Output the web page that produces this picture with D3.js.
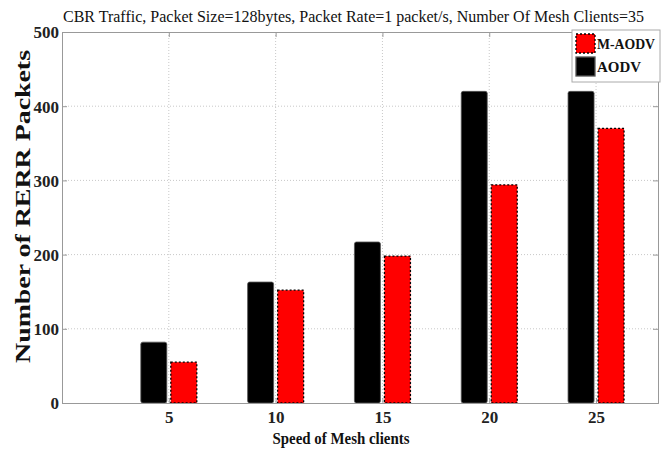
<!DOCTYPE html>
<html>
<head>
<meta charset="utf-8">
<script src="https://cdn.jsdelivr.net/npm/d3@7"></script>
<style>
  body { margin: 0; background: #fff; }
  svg text { font-family: "Liberation Serif", "Times New Roman", Times, serif !important; }
</style>
</head>
<body>
<div id="app"></div>
<script>
// data
const speeds = [5, 10, 15, 20, 25];
const aodv = [82, 163, 217, 420, 420];
const maodv = [55, 152, 198, 294, 370];
const yTicks = [0, 100, 200, 300, 400, 500];
const seriesNames = ["M-AODV", "AODV"];

const width = 663, height = 450;
const plotLeft = 62, plotRight = 658, plotTop = 32, plotBottom = 403;

const svg = d3.select("#app").append("svg")
  .attr("width", width)
  .attr("height", height);

const x = d3.scaleLinear().domain([0, 27.9]).range([plotLeft, plotRight]);
const y = d3.scaleLinear().domain([0, 500]).range([plotBottom, plotTop]);

// grid
const grid = svg.append("g");
grid.selectAll("line.h").data(yTicks.slice(1, -1)).enter().append("line")
  .attr("x1", plotLeft).attr("x2", plotRight)
  .attr("y1", d => y(d)).attr("y2", d => y(d))
  .attr("stroke", "#c8c8c8").attr("stroke-dasharray", "1,2");
grid.selectAll("line.v").data(speeds).enter().append("line")
  .attr("x1", d => x(d)).attr("x2", d => x(d))
  .attr("y1", plotTop).attr("y2", plotBottom)
  .attr("stroke", "#c8c8c8").attr("stroke-dasharray", "1,2");

// bars
const barW = 26, off = 15;
const bars = svg.append("g");
bars.selectAll("rect.aodv").data(speeds).enter().append("rect")
  .attr("x", d => x(d) - off - barW / 2)
  .attr("y", (d, i) => y(aodv[i]))
  .attr("width", barW)
  .attr("height", (d, i) => y(0) - y(aodv[i]))
  .attr("rx", 2)
  .attr("fill", "#000")
  .attr("stroke", "#555").attr("stroke-width", 0.8);
bars.selectAll("rect.maodv").data(speeds).enter().append("rect")
  .attr("x", d => x(d) + off - barW / 2)
  .attr("y", (d, i) => y(maodv[i]))
  .attr("width", barW)
  .attr("height", (d, i) => y(0) - y(maodv[i]))
  .attr("fill", "#ff0000")
  .attr("stroke", "#000").attr("stroke-width", 1.3)
  .attr("stroke-dasharray", "2,2");

// axes box
const axLeft = d3.axisLeft(y).tickValues(yTicks).tickSize(-5).tickPadding(3);
const gy = svg.append("g").attr("transform", `translate(${plotLeft},0)`).call(axLeft);
gy.select(".domain").attr("stroke", "#999");
gy.selectAll(".tick line").attr("stroke", "#999");
gy.selectAll(".tick text").attr("font-size", 17).attr("font-weight", "bold")
  .attr("fill", "#222").attr("dy", "0.35em");

const axRight = d3.axisRight(y).tickValues(yTicks).tickSize(-5).tickFormat("");
const gyr = svg.append("g").attr("transform", `translate(${plotRight},0)`).call(axRight);
gyr.select(".domain").attr("stroke", "#999");
gyr.selectAll(".tick line").attr("stroke", "#999");

const axBottom = d3.axisBottom(x).tickValues(speeds).tickSize(-5).tickPadding(8);
const gx = svg.append("g").attr("transform", `translate(0,${plotBottom})`).call(axBottom);
gx.select(".domain").attr("stroke", "#999");
gx.selectAll(".tick line").attr("stroke", "#999");
gx.selectAll(".tick text").attr("font-size", 17).attr("font-weight", "bold")
  .attr("fill", "#222");

const axTop = d3.axisTop(x).tickValues(speeds).tickSize(-5).tickFormat("");
const gxt = svg.append("g").attr("transform", `translate(0,${plotTop})`).call(axTop);
gxt.select(".domain").attr("stroke", "#999");
gxt.selectAll(".tick line").attr("stroke", "#999");

// title, shrunk until it fits over the plot
const title = svg.append("text")
  .attr("x", 63).attr("y", 22)
  .attr("font-size", 17).attr("fill", "#111")
  .text("CBR Traffic, Packet Size=128bytes, Packet Rate=1 packet/s, Number Of Mesh Clients=35");
let fs = 17;
while (title.node().getComputedTextLength() > 592 && fs > 10) {
  fs -= 0.5;
  title.attr("font-size", fs);
}

// axis labels
svg.append("text")
  .attr("transform", `translate(30,${(50 + 363) / 2}) rotate(-90)`)
  .attr("text-anchor", "middle")
  .attr("font-size", 21).attr("font-weight", "bold").attr("fill", "#111")
  .attr("textLength", 313).attr("lengthAdjust", "spacingAndGlyphs")
  .text("Number of RERR Packets");

svg.append("text")
  .attr("x", 341).attr("y", 444)
  .attr("text-anchor", "middle")
  .attr("font-size", 16).attr("font-weight", "bold").attr("fill", "#111")
  .attr("textLength", 137).attr("lengthAdjust", "spacingAndGlyphs")
  .text("Speed of Mesh clients");

// legend
const lg = svg.append("g");
lg.append("rect")
  .attr("x", 572).attr("y", 30).attr("width", 88).attr("height", 52)
  .attr("fill", "#fff").attr("stroke", "#aaa");
const swatch = [
  { fill: "#ff0000", stroke: "#000", dash: "2,2" },
  { fill: "#000", stroke: "#555", dash: null }
];
seriesNames.forEach((name, i) => {
  lg.append("rect")
    .attr("x", 576).attr("y", 34 + i * 23).attr("width", 19).attr("height", 19)
    .attr("fill", swatch[i].fill).attr("stroke", swatch[i].stroke)
    .attr("stroke-width", 1.3).attr("stroke-dasharray", swatch[i].dash);
  lg.append("text")
    .attr("x", 597).attr("y", 49 + i * 23)
    .attr("font-size", 14).attr("font-weight", "bold").attr("fill", "#111")
    .attr("textLength", i === 0 ? 58 : 44).attr("lengthAdjust", "spacingAndGlyphs")
    .text(name);
});
</script>
</body>
</html>
